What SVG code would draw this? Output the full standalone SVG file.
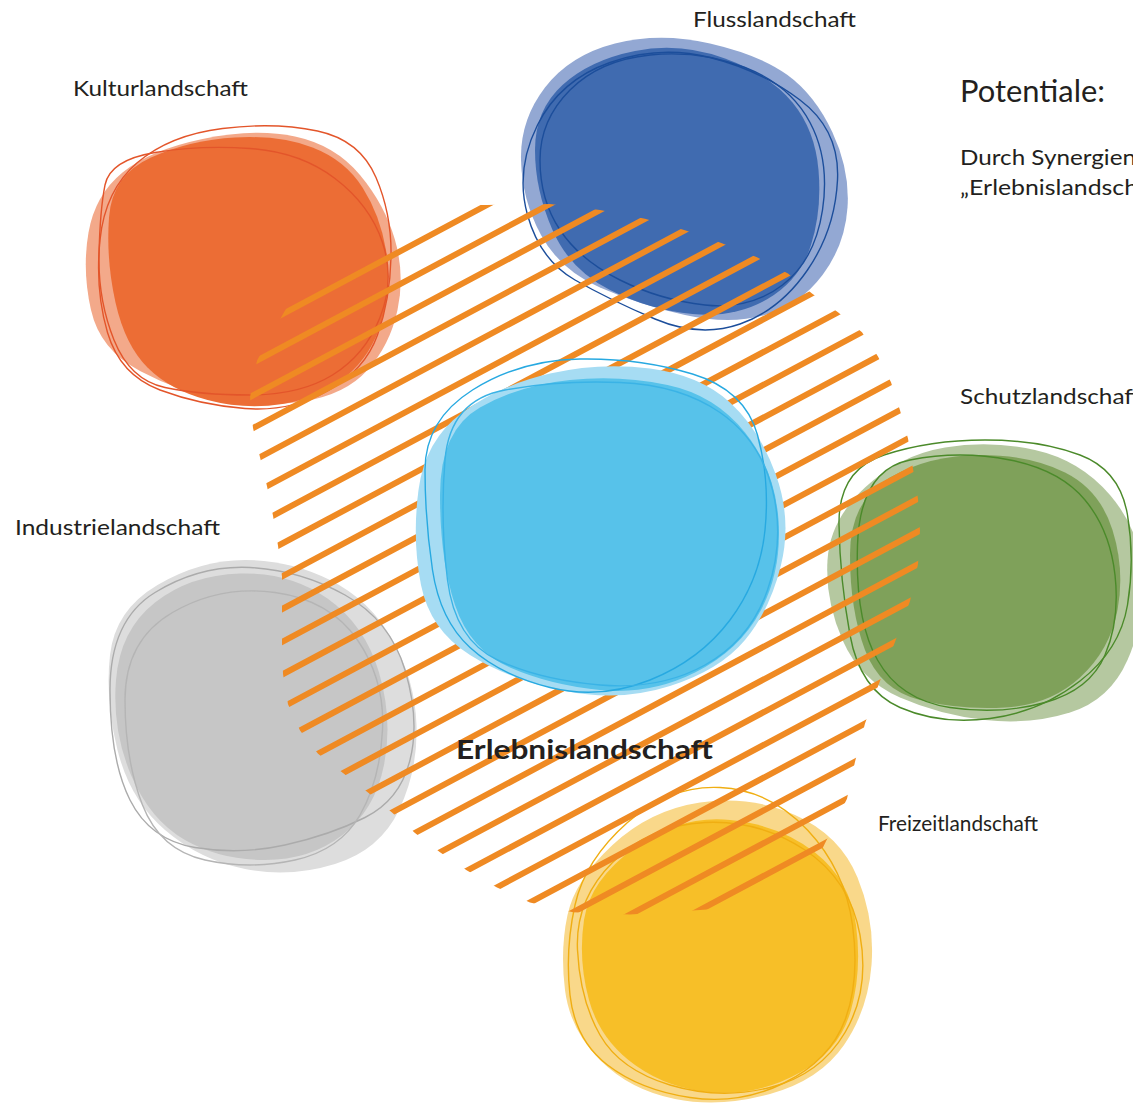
<svg xmlns="http://www.w3.org/2000/svg" width="1133" height="1107" viewBox="0 0 1133 1107">
<style>
.lbl{font-family:Lato,"Open Sans","Liberation Sans",sans-serif;font-size:22px;fill:#231F20}
.big{font-family:Lato,"Open Sans","Liberation Sans",sans-serif;font-size:30px;fill:#231F20}
.bold{font-family:Lato,"Open Sans","Liberation Sans",sans-serif;font-size:27px;font-weight:bold;fill:#231F20}
.ol{fill:none;stroke-width:1.4}
</style>
<defs>
<clipPath id="hatchClip">
<polygon points="283,313.9 257,360.5 250,397 253,428.1 260,457.2 267,486.2 273,515.7 278,545.8 282,576.4 282,609.2 282,641.9 283,674.1 288,704.2 300,730.6 318,753.7 343,773.1 368,792.5 392,812.4 415,832.9 440,852.3 467,870.6 497,887.4 530,902.5 573,912.3 630,914.6 700,910 710,909.3 821.5,850.4 825,843.2 847,798.7 855,761.7 865,723.6 879,683.4 895,642.1 910,601.3 918,564.3 920,530.5 918,498.8 913,468.7 908,438.6 900,410.2 891,382.2 878,356.4 862,332.2 838,312.3 812,293.4 788,273.5 757,257.3 722,243.2 685,230.2 645,218.8 600,210.1 550,204.1 487,204.9 477,205 287,307"/>
</clipPath>
</defs>

<g id="kulturlandschaft">
<path fill="#F3A98A" d="M 88.5,232.5 Q 95,195 122.5,172.5 Q 150,150 202.5,139 Q 255,128 295,136.5 Q 335,145 360,175 Q 385,205 395,240 Q 405,275 397.5,310 Q 390,345 367.5,370 Q 345,395 302.5,401.5 Q 260,408 220,400 Q 180,392 140,371 Q 100,350 91,310 Q 82,270 88.5,232.5 Z"/>
<path fill="#EC6D35" d="M 109,217.5 Q 112,175 151,157.5 Q 190,140 235,137.5 Q 280,135 312.5,147.5 Q 345,160 362.5,187.5 Q 380,215 386,250 Q 392,285 382,320 Q 372,355 346,376.5 Q 320,398 282.5,404 Q 245,410 207.5,400 Q 170,390 147.5,367.5 Q 125,345 115.5,302.5 Q 106,260 109,217.5 Z"/>
<path class="ol" stroke="#E3552A" d="M 100,240 Q 105,190 137.5,162.5 Q 170,135 222.5,128.5 Q 275,122 317.5,131 Q 360,140 376,177.5 Q 392,215 391,257.5 Q 390,300 377.5,335 Q 365,370 327.5,391 Q 290,412 245,408.5 Q 200,405 160,390 Q 120,375 107.5,332.5 Q 95,290 100,240 Z"/>
<path class="ol" stroke="#E3552A" d="M 105,185 Q 110,160 155,152.5 Q 200,145 250,148.5 Q 300,152 335,178.5 Q 370,205 382.5,242.5 Q 395,280 380,317.5 Q 365,355 332.5,375 Q 300,395 250,395 Q 200,395 165,387.5 Q 130,380 114,340 Q 98,300 99,255 Q 100,210 105,185 Z"/>
<text class="lbl" x="73" y="96" textLength="175" lengthAdjust="spacingAndGlyphs">Kulturlandschaft</text>
</g>

<g id="flusslandschaft">
<path fill="#93A8D3" d="M 521,160 Q 520,120 545,87.5 Q 570,55 615,43.5 Q 660,32 710,43.5 Q 760,55 787.5,75 Q 815,95 832.5,132.5 Q 850,170 847.5,207.5 Q 845,245 822.5,275 Q 800,305 765,315 Q 730,325 685,315 Q 640,305 600,287.5 Q 560,270 541,235 Q 522,200 521,160 Z"/>
<path fill="#406BB0" d="M 535,150 Q 535,110 562.5,85 Q 590,60 635,51 Q 680,42 725,58.5 Q 770,75 792.5,102.5 Q 815,130 818.5,170 Q 822,210 811,245 Q 800,280 767.5,299 Q 735,318 692.5,314 Q 650,310 610,290 Q 570,270 552.5,230 Q 535,190 535,150 Z"/>
<path class="ol" stroke="#1C4E9B" d="M 527.5,215 Q 515,170 537.5,125 Q 560,80 610,62.5 Q 660,45 710,57.5 Q 760,70 800,100 Q 840,130 837.5,180 Q 835,230 807.5,270 Q 780,310 740,324 Q 700,338 655,319 Q 610,300 575,280 Q 540,260 527.5,215 Z"/>
<path class="ol" stroke="#1C4E9B" d="M 540,160 Q 540,120 570,90 Q 600,60 650,55 Q 700,50 745,67.5 Q 790,85 810,122.5 Q 830,160 822.5,210 Q 815,260 782.5,285 Q 750,310 705,305 Q 660,300 620,280 Q 580,260 560,230 Q 540,200 540,160 Z"/>
<text class="lbl" x="693" y="27" textLength="163" lengthAdjust="spacingAndGlyphs">Flusslandschaft</text>
</g>

<g id="industrielandschaft">
<path fill="#DDDDDD" d="M 110,655 Q 115,610 157.5,585 Q 200,560 245,560 Q 290,560 330,580 Q 370,600 392.5,640 Q 415,680 416.5,725 Q 418,770 399,810 Q 380,850 335,864 Q 290,878 245,869 Q 200,860 165,830 Q 130,800 117.5,750 Q 105,700 110,655 Z"/>
<path fill="#C6C6C6" d="M 116,680 Q 120,630 155,602.5 Q 190,575 240,573.5 Q 290,572 327.5,598.5 Q 365,625 379,672.5 Q 393,720 384,765 Q 375,810 342.5,835 Q 310,860 265,860 Q 220,860 185,840 Q 150,820 131,775 Q 112,730 116,680 Z"/>
<path class="ol" stroke="#ABABAB" d="M 110,690 Q 110,620 155,592.5 Q 200,565 250,567.5 Q 300,570 345,595 Q 390,620 405,670 Q 420,720 410,760 Q 400,800 365,817.5 Q 330,835 285,845 Q 240,855 195,847.5 Q 150,840 130,800 Q 110,760 110,690 Z"/>
<path class="ol" stroke="#B5B5B5" d="M 125,700 Q 125,640 172.5,612.5 Q 220,585 275,592.5 Q 330,600 357.5,640 Q 385,680 382.5,730 Q 380,780 360,815 Q 340,850 295,860 Q 250,870 205,860 Q 160,850 142.5,805 Q 125,760 125,700 Z"/>
<text class="lbl" x="15" y="535" textLength="205" lengthAdjust="spacingAndGlyphs">Industrielandschaft</text>
</g>

<g id="schutzlandschaft">
<path fill="#B5C8A0" d="M 827.5,560 Q 830,520 865,487.5 Q 900,455 945,447.5 Q 990,440 1035,450 Q 1080,460 1110,495 Q 1140,530 1142.5,575 Q 1145,620 1127.5,660 Q 1110,700 1070,712.5 Q 1030,725 985,720 Q 940,715 900,697.5 Q 860,680 842.5,640 Q 825,600 827.5,560 Z"/>
<path fill="#7FA15A" d="M 850,555 Q 850,500 890,477.5 Q 930,455 980,455 Q 1030,455 1065,472.5 Q 1100,490 1112.5,530 Q 1125,570 1117.5,610 Q 1110,650 1080,677.5 Q 1050,705 1005,707.5 Q 960,710 920,700 Q 880,690 865,650 Q 850,610 850,555 Z"/>
<path class="ol" stroke="#4B8A2A" d="M 839,525 Q 838,470 884,455 Q 930,440 985,440 Q 1040,440 1080,455 Q 1120,470 1127.5,515 Q 1135,560 1127.5,605 Q 1120,650 1080,681 Q 1040,712 990,718.5 Q 940,725 900,707.5 Q 860,690 850,635 Q 840,580 839,525 Z"/>
<path class="ol" stroke="#4B8A2A" d="M 857.5,545 Q 860,470 910,460 Q 960,450 1010,460 Q 1060,470 1085,500 Q 1110,530 1115,575 Q 1120,620 1105,655 Q 1090,690 1045,702.5 Q 1000,715 950,707.5 Q 900,700 877.5,660 Q 855,620 857.5,545 Z"/>
<text class="lbl" x="960" y="404" textLength="181" lengthAdjust="spacingAndGlyphs">Schutzlandschaft</text>
</g>

<g id="freizeitlandschaft">
<path fill="#F9D88A" d="M 567.5,915 Q 575,880 612.5,845 Q 650,810 700,802.5 Q 750,795 795,815 Q 840,835 857.5,877.5 Q 875,920 871.5,965 Q 868,1010 844,1045 Q 820,1080 770,1094 Q 720,1108 675,1099 Q 630,1090 600,1060 Q 570,1030 565,990 Q 560,950 567.5,915 Z"/>
<path fill="#F7BF28" d="M 584,920 Q 590,880 635,847.5 Q 680,815 730,820 Q 780,825 815,852.5 Q 850,880 856,925 Q 862,970 851,1010 Q 840,1050 800,1072.5 Q 760,1095 715,1092.5 Q 670,1090 635,1065 Q 600,1040 589,1000 Q 578,960 584,920 Z"/>
<path class="ol" stroke="#F0AE12" d="M 575,905 Q 585,860 627.5,822.5 Q 670,785 720,787.5 Q 770,790 807.5,830 Q 845,870 852.5,925 Q 860,980 845,1020 Q 830,1060 785,1082.5 Q 740,1105 690,1097.5 Q 640,1090 607.5,1065 Q 575,1040 570,995 Q 565,950 575,905 Z"/>
<path class="ol" stroke="#F0AE12" d="M 577.5,950 Q 575,900 612.5,862.5 Q 650,825 705,822.5 Q 760,820 805,850 Q 850,880 860,935 Q 870,990 845,1032.5 Q 820,1075 770,1087.5 Q 720,1100 670,1085 Q 620,1070 600,1035 Q 580,1000 577.5,950 Z"/>
<text class="lbl" x="878" y="831" textLength="160" lengthAdjust="spacingAndGlyphs">Freizeitlandschaft</text>
</g>

<g id="connectors">
<g id="hatch" clip-path="url(#hatchClip)">
<path fill="none" stroke="#EF8A23" stroke-width="6" d="M230 342.2L940 -37M230 374.9L940 -4.2M230 407.7L940 28.5M230 440.4L940 61.3M230 473.2L940 94M230 505.9L940 126.8M230 538.7L940 159.5M230 571.4L940 192.3M230 604.2L940 225M230 636.9L940 257.8M230 669.7L940 290.5M230 702.4L940 323.3M230 735.2L940 356M230 767.9L940 388.8M230 800.7L940 421.5M230 833.4L940 454.3M230 866.2L940 487M230 898.9L940 519.8M230 931.7L940 552.5M230 964.4L940 585.3M230 997.2L940 618M230 1029.9L940 650.8M230 1062.7L940 683.5M230 1095.4L940 716.3M230 1128.2L940 749M230 1160.9L940 781.8"/>
</g>
</g>

<g id="erlebnislandschaft">
<path fill="#A6DCF3" d="M 418.5,490 Q 425,440 462.5,412.5 Q 500,385 550,373.5 Q 600,362 650,368.5 Q 700,375 730,402.5 Q 760,430 776,475 Q 792,520 781,565 Q 770,610 745,640 Q 720,670 670,686 Q 620,702 565,691 Q 510,680 470,655 Q 430,630 421,585 Q 412,540 418.5,490 Z"/>
<path fill="#57C2EA" d="M 440,495 Q 440,430 480,407.5 Q 520,385 570,380 Q 620,375 667.5,385 Q 715,395 745,432.5 Q 775,470 778.5,520 Q 782,570 761,610 Q 740,650 695,672.5 Q 650,695 600,690 Q 550,685 510,667.5 Q 470,650 455,605 Q 440,560 440,495 Z"/>
<path class="ol" stroke="#27A9E1" d="M 425,470 Q 425,420 472.5,390 Q 520,360 580,359 Q 640,358 692.5,374 Q 745,390 757.5,435 Q 770,480 765,530 Q 760,580 730,620 Q 700,660 650,680 Q 600,700 550,687.5 Q 500,675 470,647.5 Q 440,620 432.5,570 Q 425,520 425,470 Z"/>
<path class="ol" stroke="#3AB3E6" d="M 445,460 Q 450,400 505,390 Q 560,380 620,382.5 Q 680,385 720,412.5 Q 760,440 772.5,490 Q 785,540 767.5,590 Q 750,640 705,665 Q 660,690 600,685 Q 540,680 497.5,660 Q 455,640 447.5,580 Q 440,520 445,460 Z"/>
<text class="bold" x="456" y="759" textLength="257" lengthAdjust="spacingAndGlyphs">Erlebnislandschaft</text>
</g>

<g id="potentiale">
<text class="big" x="960" y="102" textLength="145" lengthAdjust="spacingAndGlyphs">Potentiale:</text>
<text class="lbl" x="960" y="165" textLength="176" lengthAdjust="spacingAndGlyphs">Durch Synergien</text>
<text class="lbl" x="960" y="195" textLength="178" lengthAdjust="spacingAndGlyphs">„Erlebnislandsch</text>
</g>
</svg>
